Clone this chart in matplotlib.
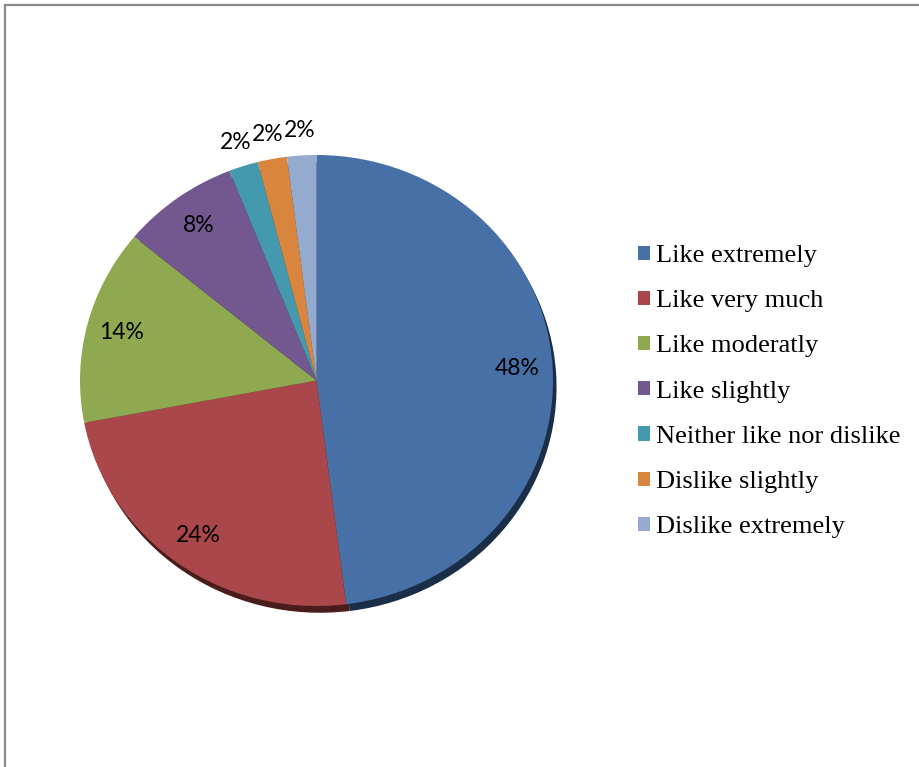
import numpy as np
import matplotlib
matplotlib.use("Agg")
from matplotlib import pyplot as plt
from matplotlib.lines import Line2D
from matplotlib.patches import Patch

categories = ["Like extremely", "Like very much", "Like moderatly", "Like slightly",
              "Neither like nor dislike", "Dislike slightly", "Dislike extremely"]
values = [48, 24, 14, 8, 2, 2, 2]
colors = ["#4770A6", "#A9474A", "#8EA94F", "#72588F", "#4599AE", "#D9853E", "#94AACF"]
shadow_colors = ["#1B2E48", "#4A1C1C", "#3A4A1E", "#30233F", "#1D4049", "#5E3818", "#3E4A5C"]

W, H = 920, 767
fig = plt.figure(figsize=[W/100, H/100], dpi=100)

# pie occupies an ellipse box in pixels
px_left, px_right, px_top, px_bottom = 80, 553, 155, 606
ax = fig.add_axes([px_left/W, 1-px_bottom/H, (px_right-px_left)/W, (px_bottom-px_top)/H])

# shadow underneath
ax.pie(values, colors=shadow_colors, startangle=90, counterclock=False,
       center=(0.015, -0.03), radius=1.0, frame=True)
wedges, _ = ax.pie(values, colors=colors, startangle=90, counterclock=False,
                   radius=1.0, frame=True)
ax.set_xlim(-1, 1)
ax.set_ylim(-1, 1)
ax.set_aspect('auto')
ax.axis('off')

total = sum(values)
for w, v in zip(wedges, values):
    mid = np.deg2rad((w.theta1 + w.theta2) / 2)
    if v > 5:
        r = 0.85
    else:
        r = 1.11
    ax.text(r*np.cos(mid), r*np.sin(mid), '{:.0f}%'.format(100*v/total),
            ha='center', va='center', fontsize=16.5, family='Lato', color='black')

handles = [Patch(facecolor=c, edgecolor='none') for c in colors]
fig.legend(handles, categories, loc='upper left', bbox_to_anchor=(638/W, 1-245/H),
           frameon=False, prop={'family': 'Liberation Serif', 'size': 19},
           handlelength=0.45, handleheight=0.45, handletextpad=0.25,
           labelspacing=0.88, borderpad=0, borderaxespad=0)

# chart border (top and left visible)
fig.add_artist(Line2D([4.5/W, 4.5/W], [0, 1-4.5/H], color='#8c8c8c', lw=1.6,
                      transform=fig.transFigure))
fig.add_artist(Line2D([4.5/W, 1], [1-4.5/H, 1-4.5/H], color='#8c8c8c', lw=1.6,
                      transform=fig.transFigure))

plt.savefig('out.png', dpi=100)
